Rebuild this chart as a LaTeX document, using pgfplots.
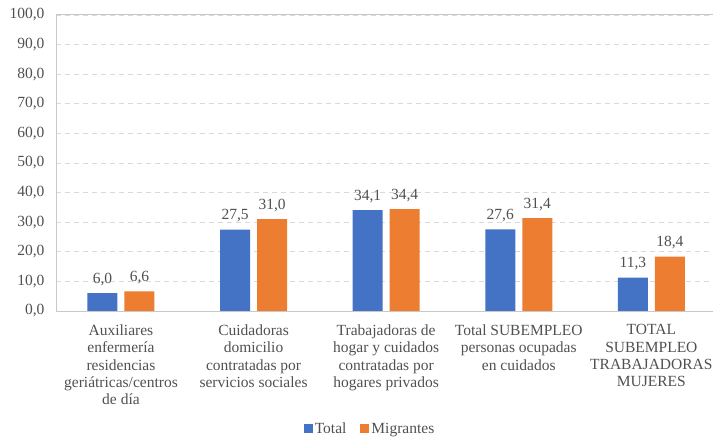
\documentclass[border=0pt]{standalone}
\usepackage{fontspec}
\setmainfont{Liberation Serif}
\usepackage{pgfplots}
\pgfplotsset{compat=1.18}
\definecolor{cBlue}{HTML}{4472C4}
\definecolor{cOrange}{HTML}{ED7D31}
\definecolor{cText}{HTML}{505050}
\definecolor{cGrid}{HTML}{D9D9D9}
\definecolor{cAxis}{HTML}{C8C8C8}
\newcommand{\fs}{\fontsize{15.5bp}{17.4bp}\selectfont}
\begin{document}
\begin{tikzpicture}
\useasboundingbox (0bp,0bp) rectangle (713bp,438bp);
\begin{axis}[
  at={(56bp,127bp)}, anchor=south west,
  scale only axis, width=657bp, height=296bp,
  ybar=7bp, bar width=30bp,
  xmin=-0.49, xmax=4.465, ymin=0, ymax=100,
  ytick={0,10,...,100},
  xtick={0,1,2,3,4},
  xticklabels={{Auxiliares\\enfermería\\residencias\\geriátricas/centros\\de día},
               {Cuidadoras\\domicilio\\contratadas por\\servicios sociales},
               {Trabajadoras de\\hogar y cuidados\\contratadas por\\hogares privados},
               {Total SUBEMPLEO\\personas ocupadas\\en cuidados},
               {TOTAL\\SUBEMPLEO\\TRABAJADORAS\\MUJERES}},
  xticklabel style={align=center, font=\fs, text=cText, anchor=north, yshift=-10bp},
  yticklabel style={font=\fs, text=cText, xshift=-8bp},
  /pgf/number format/.cd, fixed, fixed zerofill, precision=1, use comma, assume math mode=true,
  /pgfplots/.cd,
  major tick length=0pt,
  axis x line*=bottom, axis y line*=left,
  axis line style={cAxis, line width=1bp},
  ymajorgrids, grid style={cGrid, dash pattern=on 5bp off 4bp, line width=0.8bp},
  nodes near coords,
  every node near coord/.append style={font=\fs, text=cText, yshift=4bp},
  legend columns=2,
  legend style={draw=none, fill=none, font=\fs, text=cText, at={(0.478,-0.398)}, anchor=center,
    /tikz/every even column/.append style={column sep=12bp}},
  legend image code/.code={\fill[#1] (0bp,-4.5bp) rectangle (9bp,4.5bp);},
]
\addplot[fill=cBlue, draw=none] coordinates {(0,6.0) (1,27.5) (2,34.1) (3,27.6) (4,11.3)};
\addplot[fill=cOrange, draw=none] coordinates {(0,6.6) (1,31.0) (2,34.4) (3,31.4) (4,18.4)};
\legend{Total,Migrantes}
\draw[cAxis, line width=1bp] (rel axis cs:0,1) -- (rel axis cs:1,1);
\end{axis}
\end{tikzpicture}
\end{document}
